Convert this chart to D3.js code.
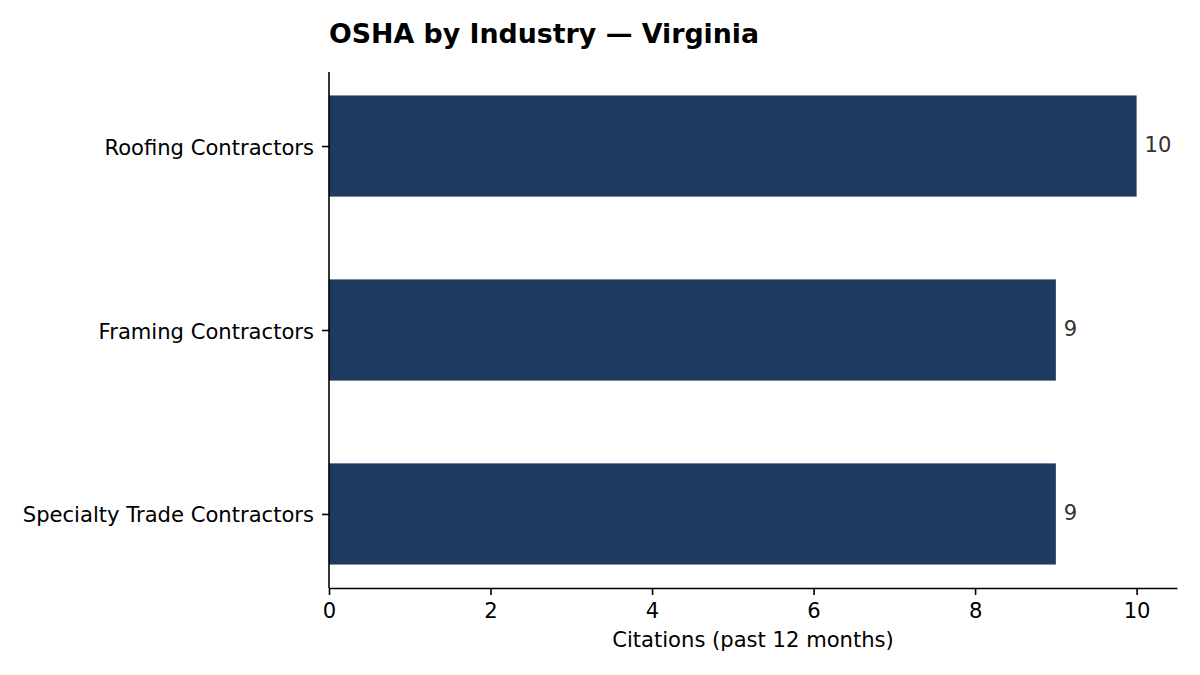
<!DOCTYPE html>
<html>
<head>
<meta charset="utf-8">
<script src="https://cdn.jsdelivr.net/npm/d3@7"></script>
<style>
  body { margin: 0; background: #fff; }
  svg { font-family: "DejaVu Sans", sans-serif; }
</style>
</head>
<body>
<script>
// Citations by industry, top to bottom as shown
const industries = ["Roofing Contractors", "Framing Contractors", "Specialty Trade Contractors"];
const citations = [10, 9, 9];
const xTicks = [0, 2, 4, 6, 8, 10];

const width = 1200, height = 675;
const margin = { top: 72, right: 23, bottom: 87, left: 329 };
const fs = 21.1;

const svg = d3.select("body").append("svg")
    .attr("width", width)
    .attr("height", height);

const x = d3.scaleLinear()
    .domain([0, 10.5])
    .range([margin.left, width - margin.right]);

// matplotlib-like: bars of height 0.55 with 5% margins
const barH = 0.55;
const y = d3.scaleLinear()
    .domain([-0.4025, industries.length - 1 + 0.4025])
    .range([margin.top, height - margin.bottom]);

const barPx = Math.abs(y(barH) - y(0));

svg.append("g")
    .selectAll("rect")
    .data(industries)
    .join("rect")
    .attr("x", x(0))
    .attr("y", (d, i) => y(i) - barPx / 2)
    .attr("width", (d, i) => x(citations[i]) - x(0))
    .attr("height", barPx)
    .attr("fill", "#1f3a5f");

// value labels
svg.append("g")
    .selectAll("text")
    .data(industries)
    .join("text")
    .attr("x", (d, i) => x(citations[i]) + 8)
    .attr("y", (d, i) => y(i) - 1.5)
    .attr("dy", "0.35em")
    .attr("font-size", fs)
    .attr("fill", "#333")
    .text((d, i) => citations[i]);

// x axis
const xAxis = svg.append("g")
    .attr("transform", `translate(0,${height - margin.bottom})`)
    .call(d3.axisBottom(x).tickValues(xTicks).tickSize(7).tickSizeOuter(0).tickPadding(8));
xAxis.select(".domain").attr("stroke", "#000").attr("stroke-width", 1.6);
xAxis.selectAll(".tick line").attr("stroke", "#000").attr("stroke-width", 1.6);
xAxis.selectAll(".tick text").attr("font-size", fs).attr("fill", "#000")
    .attr("font-family", "DejaVu Sans, sans-serif");

// y axis (categories)
const yAxis = svg.append("g")
    .attr("transform", `translate(${margin.left},0)`)
    .call(d3.axisLeft(y).tickValues(d3.range(industries.length))
        .tickFormat(i => industries[i]).tickSize(7).tickPadding(8));
yAxis.select(".domain").attr("stroke", "#000").attr("stroke-width", 1.6)
    .attr("d", `M0,${margin.top}V${height - margin.bottom}`);
yAxis.selectAll(".tick line").attr("stroke", "#000").attr("stroke-width", 1.6);
yAxis.selectAll(".tick text").attr("font-size", fs).attr("fill", "#000")
    .attr("font-family", "DejaVu Sans, sans-serif")
    .attr("dy", "0.38em");

// x label
svg.append("text")
    .attr("x", (margin.left + width - margin.right) / 2)
    .attr("y", 646.5)
    .attr("text-anchor", "middle")
    .attr("font-size", fs)
    .text("Citations (past 12 months)");

// title
svg.append("text")
    .attr("x", margin.left)
    .attr("y", 43)
    .attr("font-size", 26.8)
    .attr("font-weight", "bold")
    .text("OSHA by Industry — Virginia");
</script>
</body>
</html>
